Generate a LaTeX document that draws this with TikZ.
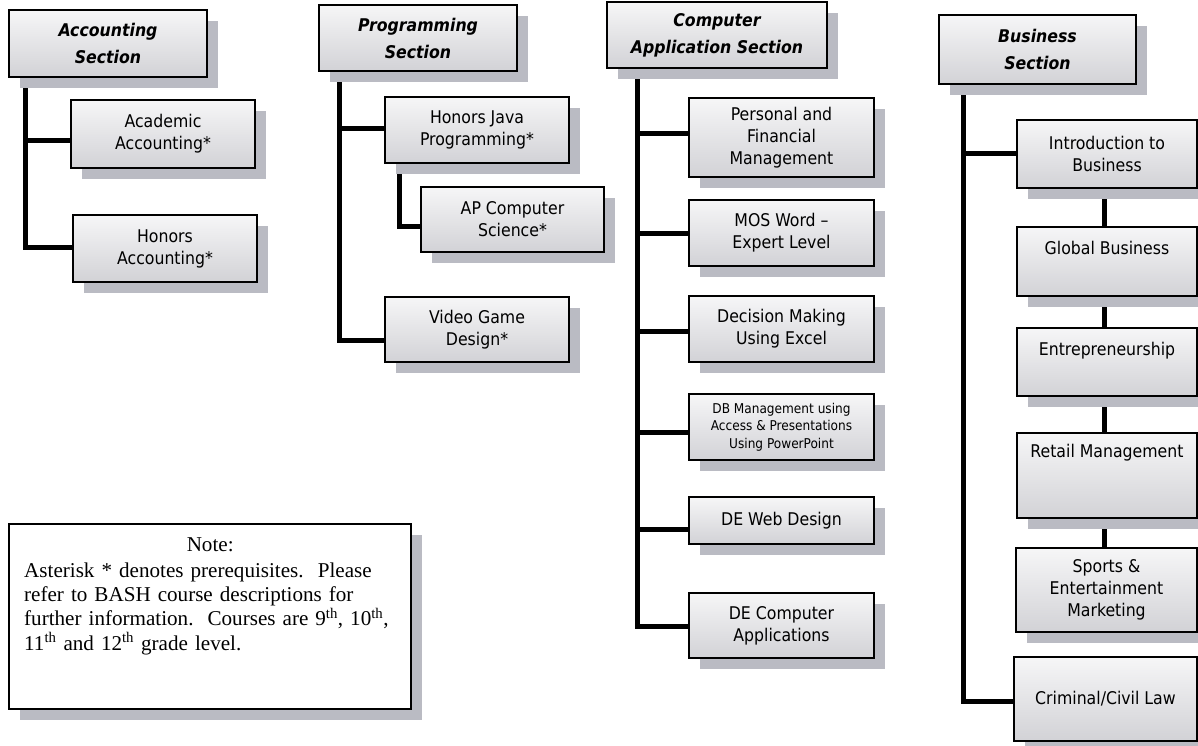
\documentclass[tikz,border=0pt]{standalone}
\usepackage{fontspec}
\setmainfont{DejaVu Sans Condensed}
\newfontfamily\notefont{Liberation Serif}
\usetikzlibrary{shadows,backgrounds}
\definecolor{boxtop}{HTML}{F6F6F7}
\definecolor{boxbot}{HTML}{D2D2D6}
\definecolor{shadowc}{HTML}{BABBC3}
\tikzset{
  shadowed/.style={drop shadow={shadow xshift=11pt, shadow yshift=-11pt, fill=shadowc, opacity=1}},
  course/.style={shadowed, draw=black, line width=1.6pt, top color=boxtop, bottom color=boxbot,
    align=center, inner sep=2pt, font=\fontsize{17.5}{22}\selectfont},
  small/.style={font=\fontsize{13.5}{17.5}\selectfont},
  head/.style={course, font=\fontsize{17.5}{27}\selectfont\bfseries\itshape},
  notebox/.style={shadowed, draw=black, line width=1.6pt, fill=white},
  link/.style={line width=5pt, line join=miter}
}
\begin{document}
\begin{tikzpicture}[x=1pt, y=1pt]
\useasboundingbox (0,0) rectangle (1198,-745);

% section headers
\node[head, minimum width=198pt, minimum height=67pt] (acch) at (108,-43.5) {Accounting\\Section};
\node[head, minimum width=198pt, minimum height=66pt] (progh) at (418,-38) {Programming\\Section};
\node[head, minimum width=220pt, minimum height=66pt] (comph) at (717,-35) {Computer\\Application Section};
\node[head, minimum width=197pt, minimum height=69pt] (bush) at (1037.5,-49.5) {Business\\Section};

% accounting courses
\node[course, minimum width=184pt, minimum height=68pt] (acad) at (163,-134) {Academic\\Accounting*};
\node[course, minimum width=184pt, minimum height=67pt] (honacc) at (165,-248.5) {Honors\\Accounting*};

% programming courses
\node[course, minimum width=184pt, minimum height=66pt] (java) at (477,-130) {Honors Java\\Programming*};
\node[course, minimum width=183pt, minimum height=65pt] (apcs) at (512.5,-219.5) {AP Computer\\Science*};
\node[course, minimum width=184pt, minimum height=65pt] (video) at (477,-329.5) {Video Game\\Design*};

% computer application courses
\node[course, minimum width=185pt, minimum height=79pt] (pfm) at (781.5,-137.5) {Personal and\\Financial\\Management};
\node[course, minimum width=185pt, minimum height=66pt] (mos) at (781.5,-233) {MOS Word --\\Expert Level};
\node[course, minimum width=185pt, minimum height=66pt] (dec) at (781.5,-329) {Decision Making\\Using Excel};
\node[course, small, minimum width=185pt, minimum height=66pt] (db) at (781.5,-427) {DB Management using\\Access \& Presentations\\Using PowerPoint};
\node[course, minimum width=185pt, minimum height=47pt] (web) at (781.5,-520.5) {DE Web Design};
\node[course, minimum width=185pt, minimum height=65pt] (deca) at (781.5,-625.5) {DE Computer\\Applications};

% business courses
\node[course, minimum width=180pt, minimum height=68pt] (intro) at (1107,-154) {Introduction to\\Business};
\node[course, minimum width=180pt, minimum height=69pt] (global) at (1107,-261.5) {\strut Global Business\\\strut};
\node[course, minimum width=180pt, minimum height=68pt] (entre) at (1107,-362) {\strut Entrepreneurship\\\strut};
\node[course, minimum width=180pt, minimum height=85pt] (retail) at (1107,-475.5) {\strut Retail Management\\\strut\\\strut};
\node[course, minimum width=181pt, minimum height=84pt] (sports) at (1106.5,-590) {Sports \&\\Entertainment\\Marketing};
\node[course, minimum width=183pt, minimum height=84pt] (crim) at (1105.5,-699) {Criminal/Civil Law};

% note
\node[notebox, minimum width=402pt, minimum height=185pt] (note) at (210,-616.5) {};
\node[anchor=north west, inner sep=0pt, text width=372pt, align=left,
      font=\notefont\fontsize{21.1}{24.3}\selectfont] (notetext) at (24,-537)
  {\makebox[\linewidth]{Note:}\\[2pt]
   Asterisk * denotes prerequisites.\ \ Please\\
   refer to BASH course descriptions for\\
   further information.\ \ Courses are 9\textsuperscript{th}, 10\textsuperscript{th},\\
   11\textsuperscript{th} and 12\textsuperscript{th} grade level.};

% connectors
\coordinate (acctrunk) at (25,0);
\coordinate (progtrunk) at (339,0);
\coordinate (subtrunk) at (399,0);
\coordinate (comptrunk) at (637,0);
\coordinate (bustrunk) at (963,0);
\coordinate (chain) at (1104,0);

\coordinate (e-acad) at ([yshift=-6pt]acad.west);
\coordinate (e-honacc) at ([yshift=1.5pt]honacc.west);
\coordinate (e-java) at ([yshift=2pt]java.west);
\coordinate (e-apcs) at ([yshift=-6.5pt]apcs.west);
\coordinate (e-video) at ([yshift=-10.5pt]video.west);
\coordinate (e-pfm) at ([yshift=4.5pt]pfm.west);
\coordinate (e-mos) at (mos.west);
\coordinate (e-dec) at ([yshift=-2pt]dec.west);
\coordinate (e-db) at ([yshift=-5pt]db.west);
\coordinate (e-web) at ([yshift=-8.5pt]web.west);
\coordinate (e-deca) at ([yshift=-0.5pt]deca.west);
\coordinate (e-intro) at ([yshift=1pt]intro.west);
\coordinate (e-crim) at ([yshift=-2pt]crim.west);

\begin{scope}[on background layer]
  \fill[white] (0,0) rectangle (1198,-745);

  \draw[link] (acch.south -| acctrunk) |- (e-honacc);
  \draw[link] (e-acad -| acctrunk) -- (e-acad);

  \draw[link] (progh.south -| progtrunk) |- (e-video);
  \draw[link] (e-java -| progtrunk) -- (e-java);
  \draw[link] (java.south -| subtrunk) |- (e-apcs);

  \draw[link] (comph.south -| comptrunk) |- (e-deca);
  \foreach \t in {pfm,mos,dec,db,web}
    \draw[link] (e-\t -| comptrunk) -- (e-\t);

  \draw[link] (bush.south -| bustrunk) |- (e-crim);
  \draw[link] (e-intro -| bustrunk) -- (e-intro);
  \draw[link] (intro.south -| chain) -- (global.north -| chain);
  \draw[link] (global.south -| chain) -- (entre.north -| chain);
  \draw[link] (entre.south -| chain) -- (retail.north -| chain);
  \draw[link] (retail.south -| chain) -- (sports.north -| chain);
\end{scope}
\end{tikzpicture}
\end{document}
